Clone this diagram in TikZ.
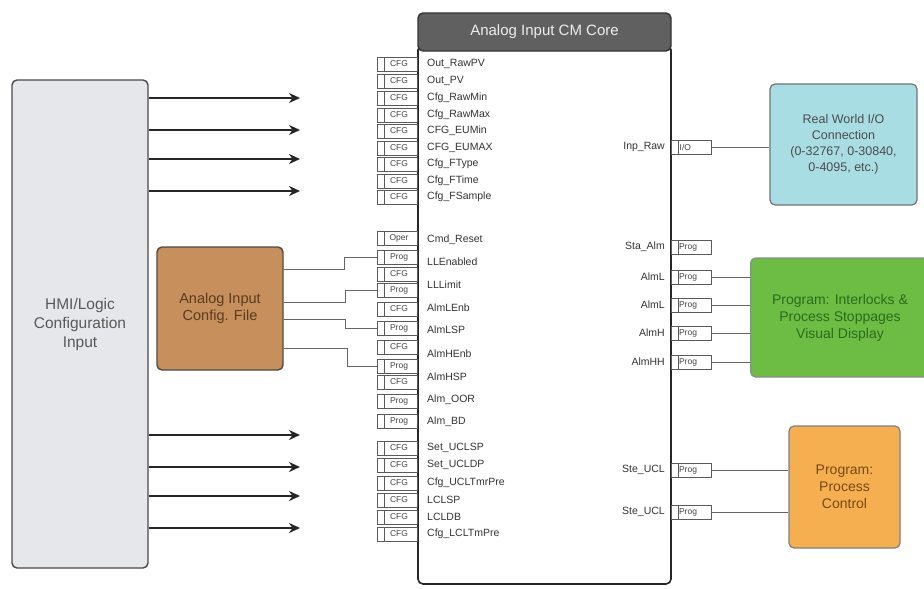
\documentclass[tikz,border=0pt]{standalone}
\usepackage{fontspec}
\setmainfont{Liberation Sans}
\usetikzlibrary{arrows.meta}
\definecolor{pinline}{HTML}{5A5A5A}
\definecolor{pintext}{HTML}{444444}
\definecolor{lbltext}{HTML}{333333}
\definecolor{hmifill}{HTML}{E6E7EB}
\definecolor{boxline}{HTML}{4A4A4A}
\definecolor{cfgfill}{HTML}{C68F5B}
\definecolor{cfgtext}{HTML}{5A3C22}
\definecolor{rwfill}{HTML}{A8DDE3}
\definecolor{grfill}{HTML}{6DBD45}
\definecolor{grtext}{HTML}{2D6A1C}
\definecolor{orfill}{HTML}{F5AF50}
\definecolor{ortext}{HTML}{774A15}
\definecolor{hdrfill}{HTML}{606060}
\definecolor{wire}{HTML}{666666}
\tikzset{
  pinbox/.style={draw=pinline, line width=0.7pt, minimum width=40pt, minimum height=14pt,
    inner sep=0pt, text=pintext, font=\fontsize{8.5}{9}\selectfont, fill=white,
    path picture={\draw[pinline, line width=0.5pt] ([xshift=7pt]path picture bounding box.north west) -- ([xshift=7pt]path picture bounding box.south west);}},
  lbl/.style={inner sep=0pt, text=lbltext, font=\fontsize{10.5}{11}\selectfont},
  bigbox/.style={draw=boxline, line width=1.4pt, rounded corners=5pt, inner sep=2pt, align=center},
  inarrow/.style={draw=black!85, line width=1.9pt, -{Stealth[length=11pt,width=10pt]}},
  wireline/.style={draw=wire, line width=1pt},
}
\begin{document}
\begin{tikzpicture}[x=1pt,y=-1pt]
\clip (0,0) rectangle (924,589);
\fill[white] (0,0) rectangle (924,589);

% HMI block
\node[bigbox, fill=hmifill, minimum width=136pt, minimum height=488pt, text=black!65,
  font=\fontsize{15.5}{19}\selectfont] (hmi) at (80,324) {HMI/Logic\\Configuration\\Input};

% arrows from HMI
\foreach \yy [count=\k] in {98,130,159,191,435,467,496,528} {
  \coordinate (ae\k) at (300,\yy);
  \draw[inarrow] (hmi.east |- ae\k) -- (ae\k);
}

% Config file block
\node[bigbox, fill=cfgfill, minimum width=126pt, minimum height=123pt, text=cfgtext,
  font=\fontsize{14.5}{17}\selectfont] (acf) at (220,308.5) {Analog Input\\Config. File};

% Core block
\draw[black!85, line width=1.6pt, rounded corners=5pt, fill=white] (418,45) rectangle (671,584);
\node[draw=black!80, line width=1.4pt, fill=hdrfill, rounded corners=5pt, minimum width=253pt,
  minimum height=38pt, text=white!93!black, font=\fontsize{15}{16}\selectfont] (core) at (544.5,32) {Analog Input CM Core};

% top group of CFG rows
\foreach \yy/\txt [count=\k] in {64/Out\_RawPV,81/Out\_PV,98/Cfg\_RawMin,115/Cfg\_RawMax,131/CFG\_EUMin,148/CFG\_EUMAX,164/Cfg\_FType,181/Cfg\_FTime,197/Cfg\_FSample} {
  \node[pinbox] (t\k) at (397,\yy) {\hspace*{4pt}CFG};
  \node[lbl, anchor=west] (tl\k) at (427,\yy) {\txt};
}

% middle group boxes
\foreach \yy/\txt [count=\k] in {238/Oper,257/Prog,274/CFG,290/Prog,309/CFG,328/Prog,347/CFG,366/Prog,382/CFG,401/Prog,421/Prog} {
  \node[pinbox] (m\k) at (397,\yy) {\hspace*{4pt}\txt};
}
% middle group labels
\foreach \yy/\txt [count=\k] in {240/Cmd\_Reset,262/LLEnabled,285/LLLimit,308/AlmLEnb,330/AlmLSP,354/AlmHEnb,377/AlmHSP,400/Alm\_OOR,422/Alm\_BD} {
  \node[lbl, anchor=west] (ml\k) at (427,\yy) {\txt};
}

% bottom group
\foreach \yy/\txt [count=\k] in {448/Set\_UCLSP,465/Set\_UCLDP,483/Cfg\_UCLTmrPre,500/LCLSP,517/LCLDB,534/Cfg\_LCLTmPre} {
  \node[pinbox] (b\k) at (397,\yy) {\hspace*{4pt}CFG};
  \node[lbl, anchor=west] (bl\k) at (427,\yy) {\txt};
}

% config file wires
\draw[wireline] (acf.east |- 0,269) -- (344,269) |- (m2.west);
\draw[wireline] (acf.east |- 0,302) -- (345,302) |- (m4.west);
\draw[wireline] (acf.east |- 0,319) -- (345,319) |- (m6.west);
\draw[wireline] (acf.east |- 0,348) -- (347,348) |- (m8.west);

% right side outputs
\node[pinbox, anchor=west] (io) at (671,147) {\hspace*{2pt}I/O\hspace*{14pt}};
\node[lbl, anchor=east] (iol) at (665,147) {Inp\_Raw};

\foreach \yy/\txt [count=\k] in {247/Sta\_Alm,277/AlmL,305/AlmL,333/AlmH,362/AlmHH,470/Ste\_UCL,512/Ste\_UCL} {
  \node[pinbox] (r\k) at (691,\yy) {\hspace*{2pt}Prog\hspace*{8pt}};
  \node[lbl, anchor=east] (rl\k) at (665,\yy) {\txt};
}

% Real world block
\node[bigbox, draw=black!55, line width=1.2pt, fill=rwfill, minimum width=147pt, minimum height=121pt, text=black!70,
  font=\fontsize{12.5}{16}\selectfont] (rw) at (843.5,144.5) {Real World I/O\\Connection\\(0-32767, 0-30840,\\0-4095, etc.)};

% Green block
\node[bigbox, draw=black!45, line width=1.2pt, fill=grfill, minimum width=190pt, minimum height=119pt,
  anchor=west] (gr) at (750,317.5) {};
\node[text=grtext, font=\fontsize{14}{17}\selectfont, align=center] (grt) at (840,318) {Program: Interlocks \&\\Process Stoppages\\Visual Display};

% Orange block
\node[bigbox, draw=black!50, line width=1.2pt, fill=orfill, minimum width=111pt, minimum height=122pt, text=ortext,
  font=\fontsize{14}{17}\selectfont] (or) at (844.5,487) {Program:\\Process\\Control};

% right wires
\draw[wireline] (io.east) -- (rw.west |- io.east);
\foreach \k in {2,3,4,5} { \draw[wireline] (r\k.east) -- (gr.west |- r\k.east); }
\foreach \k in {6,7} { \draw[wireline] (r\k.east) -- (or.west |- r\k.east); }

\end{tikzpicture}
\end{document}
